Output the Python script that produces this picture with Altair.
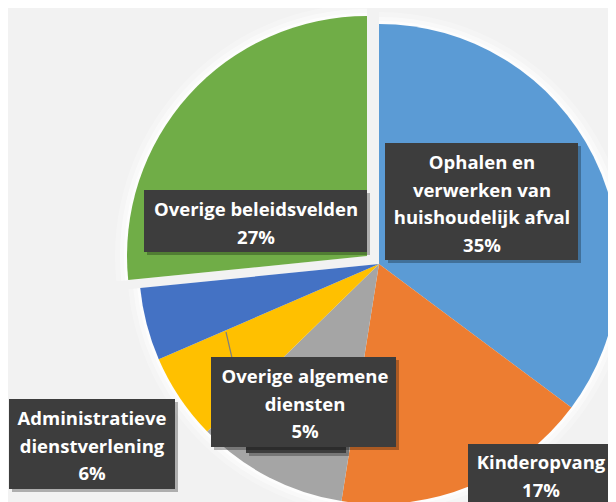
import altair as alt
import pandas as pd

# ---- data -------------------------------------------------------------
categories = [
    "Ophalen en verwerken van huishoudelijk afval",
    "Kinderopvang",
    "Overig",
    "Administratieve dienstverlening",
    "Overige algemene diensten",
    "Overige beleidsvelden",
]
label_lines = [
    "Ophalen en\nverwerken van\nhuishoudelijk afval",
    "Kinderopvang",
    "Overig",
    "Administratieve\ndienstverlening",
    "Overige algemene\ndiensten",
    "Overige beleidsvelden",
]
values = [35.2, 17.3, 10.2, 5.8, 4.9, 26.6]

colors = ["#5B9BD5", "#ED7D31", "#A5A5A5", "#FFC000", "#4472C4", "#70AD47"]

df = pd.DataFrame({
    "category": categories,
    "label": label_lines,
    "value": values,
    "order": list(range(len(categories))),
})

# ---- layout ------------------------------------------------------------
CX, CY, R = 371, 256, 240          # pie centre / radius
GX, GY = 359, 248                  # exploded slice centre
BOX = "#3d3d3d"
FONT = "Open Sans"

base = (
    alt.Chart(df)
    .transform_joinaggregate(total="sum(value)")
    .transform_window(cum="sum(value)", sort=[alt.SortField("order")], frame=[None, 0])
    .transform_calculate(
        end="datum.cum / datum.total",
        start="(datum.cum - datum.value) / datum.total",
        text="datum.label + '\\n' + round(datum.value) + '%'",
    )
)

theta = alt.Theta("start:Q", scale=alt.Scale(domain=[0, 1], range=[0, 6.283185307179586]))
color = alt.Color("category:N", scale=alt.Scale(domain=categories, range=colors), legend=None)

exploded = categories[5]


def slices(radius, cx, cy, keep, **mk):
    flt = (alt.datum.category == exploded) if keep else (alt.datum.category != exploded)
    return base.transform_filter(flt).mark_arc(radius=radius, **mk).encode(
        theta=theta, theta2="end:Q", x=alt.value(cx), y=alt.value(cy)
    )


layers = []
# soft glow around the pie
for rr, op in [(252, 0.25), (247, 0.45), (243, 0.7)]:
    layers.append(slices(rr, CX, CY, False, color="white", opacity=op))
    layers.append(slices(rr, GX, GY, True, color="white", opacity=op))

layers.append(slices(R, CX, CY, False).encode(color=color))
layers.append(slices(R, GX, GY, True).encode(color=color))

# leader line
layers.append(
    base.transform_filter(alt.datum.category == categories[4])
    .mark_rule(color="#7f7f7f", strokeWidth=1.2)
    .encode(x=alt.value(218), x2=alt.value(224), y=alt.value(324), y2=alt.value(350))
)

# label boxes: category -> (x0, y0, x1, y1, text x, first-line y)
boxes = [
    (categories[2], 238, 390, 338, 445, None, None),
    (categories[5], 136, 182, 359, 244, 248, 202),
    (categories[0], 377, 135, 570, 252, 474, 155),
    (categories[4], 203, 349, 388, 439, 297, 369),
    (categories[3], 1, 391, 167, 481, 84, 411),
    (categories[1], 460, 436, 606, 512, 533, 455),
]

for cat, x0, y0, x1, y1, tx, ty in boxes:
    sub = base.transform_filter(alt.datum.category == cat)
    layers.append(
        sub.mark_rect(color="black", opacity=0.28).encode(
            x=alt.value(x0 + 3), x2=alt.value(x1 + 3), y=alt.value(y0 + 3), y2=alt.value(y1 + 3)
        )
    )
    layers.append(
        sub.mark_rect(color=BOX).encode(
            x=alt.value(x0), x2=alt.value(x1), y=alt.value(y0), y2=alt.value(y1)
        )
    )
    if tx is not None:
        layers.append(
            sub.mark_text(
                font=FONT, fontSize=18.5, fontWeight="bold", color="white",
                align="center", baseline="middle", lineBreak="\n", lineHeight=27.7,
            ).encode(text="text:N", x=alt.value(tx), y=alt.value(ty))
        )

chart = (
    alt.layer(*layers)
    .properties(width=600, height=494, background="#f2f2f2", padding=0, autosize="none")
    .configure_view(stroke=None)
)

chart.save("out.html", embed_options={"renderer": "svg", "actions": False})
